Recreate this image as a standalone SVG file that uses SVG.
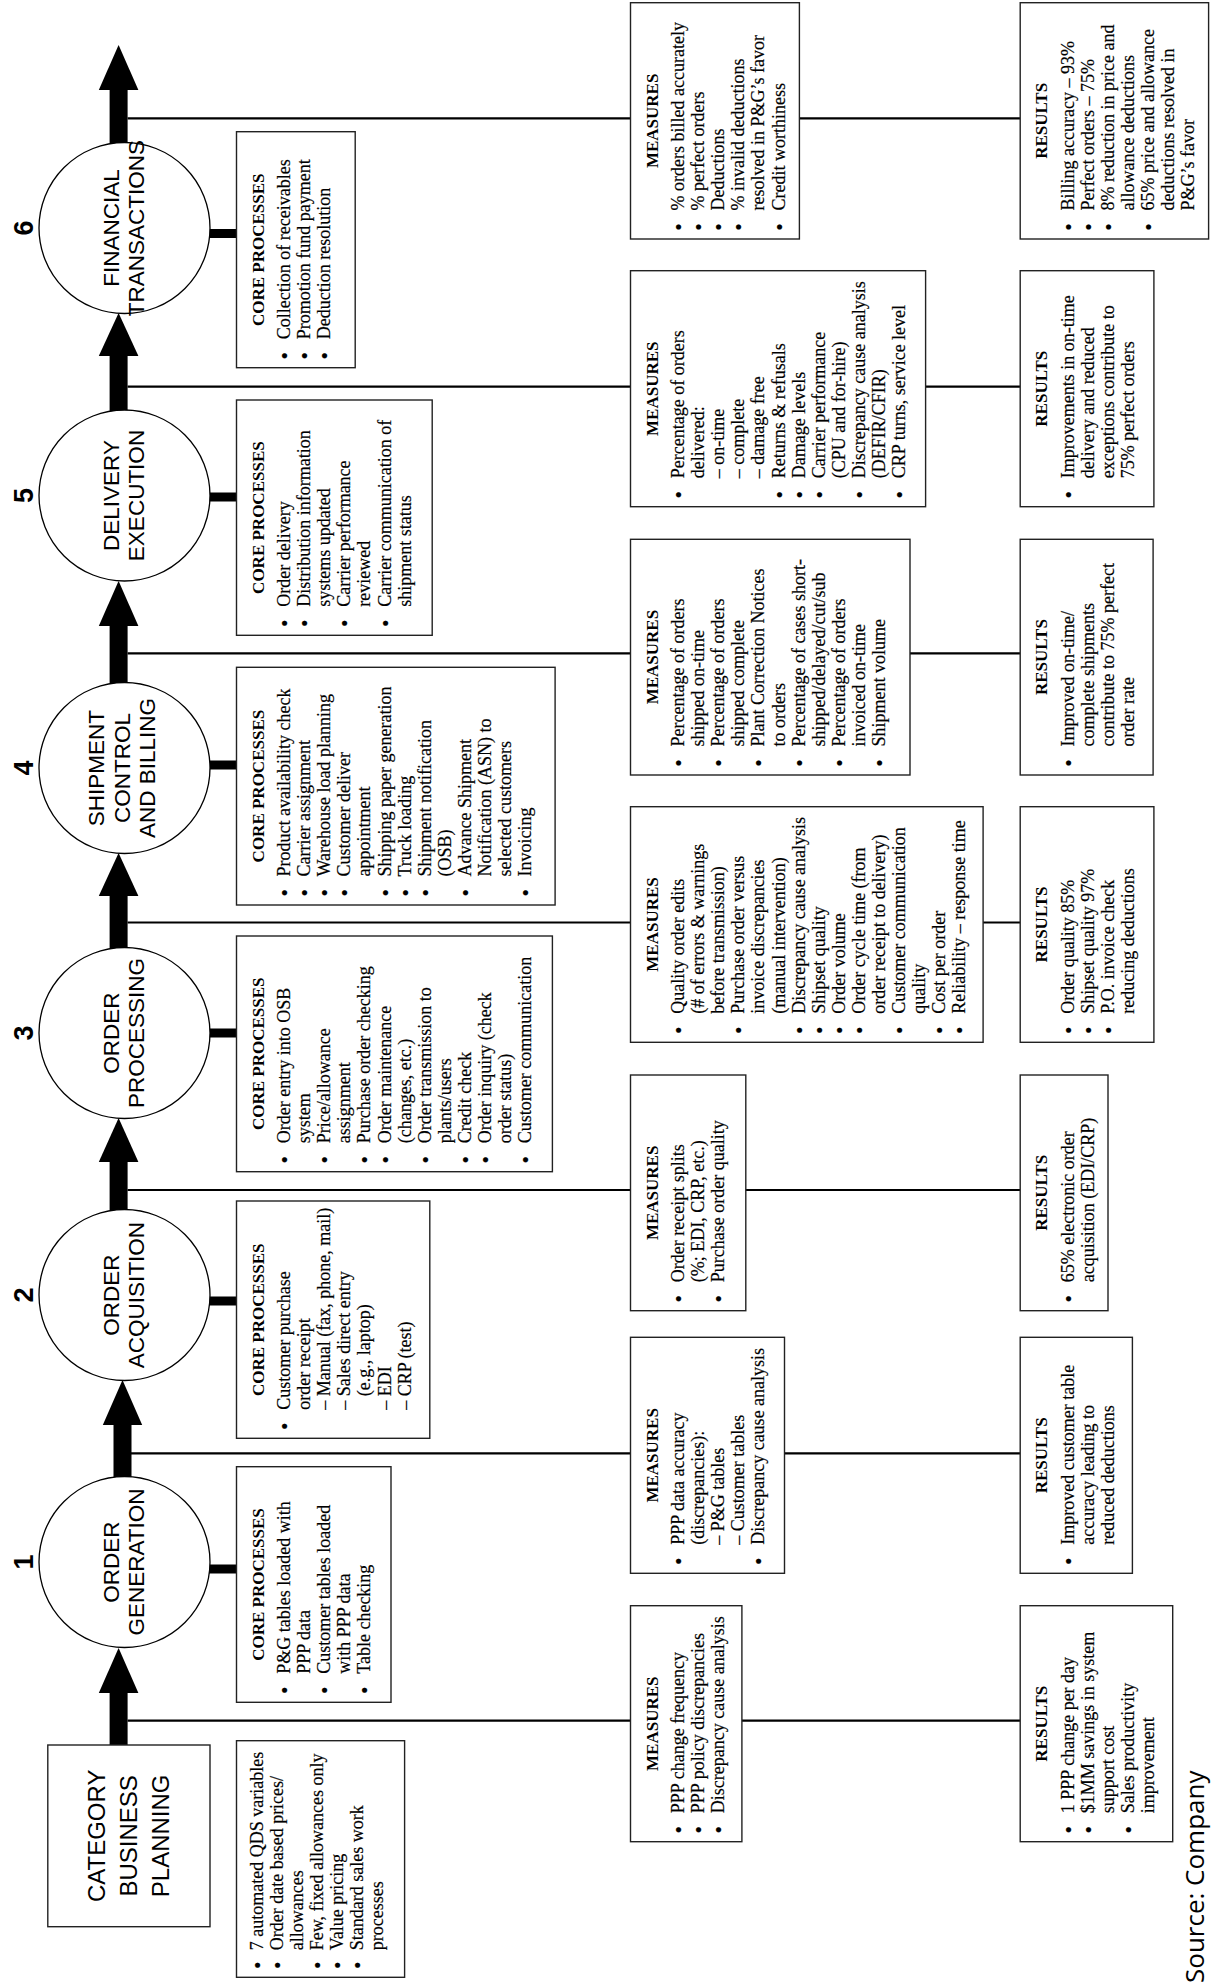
<svg xmlns="http://www.w3.org/2000/svg" width="1213" height="1982" viewBox="0 0 1213 1982">
<style>
.box{fill:#fff;stroke:#222;stroke-width:1.4}
.cir{fill:#fff;stroke:#000;stroke-width:1.3}
.t{font-family:"Liberation Serif","Times New Roman",serif;font-size:18px;fill:#000;stroke:#000;stroke-width:0.2}
.b{font-size:21px;baseline-shift:-1.5px}
.h{font-family:"Liberation Serif","Times New Roman",serif;font-size:17px;font-weight:bold;text-anchor:middle;fill:#000}
.c{font-family:"Liberation Sans",Arial,sans-serif;font-size:22.5px;text-anchor:middle;fill:#000}
.cb{font-family:"Liberation Sans",Arial,sans-serif;font-size:24px;text-anchor:middle;fill:#000}
.n{font-family:"Liberation Sans",Arial,sans-serif;font-size:27px;font-weight:bold;text-anchor:middle;fill:#000}
.src{font-family:"Open Sans","Liberation Sans",sans-serif;font-size:26px;fill:#000}
.ln{stroke:#000;stroke-width:2.2;fill:none}
.blk{fill:#000}
</style>
<g transform="translate(0,1982) rotate(-90)">
<g id="connectors">
<line class="ln" x1="261.3" y1="127.6" x2="261.3" y2="1020.2"/>
<line class="ln" x1="528.7" y1="127.6" x2="528.7" y2="1020.2"/>
<line class="ln" x1="792" y1="127.6" x2="792" y2="1020.2"/>
<line class="ln" x1="1059.5" y1="127.6" x2="1059.5" y2="1020.2"/>
<line class="ln" x1="1328.7" y1="127.6" x2="1328.7" y2="1020.2"/>
<line class="ln" x1="1595.3" y1="127.6" x2="1595.3" y2="1020.2"/>
<line class="ln" x1="1863.7" y1="127.6" x2="1863.7" y2="1020.2"/>
<rect class="blk" x="236" y="109.6" width="54" height="18"/>
<polygon class="blk" points="289,98.8 334,118.6 289,138.4"/>
<rect class="blk" x="504" y="113.5" width="54" height="18"/>
<polygon class="blk" points="557,102.8 602,122.5 557,142.2"/>
<rect class="blk" x="771" y="109.6" width="50" height="18"/>
<polygon class="blk" points="820,98.8 864,118.6 820,138.4"/>
<rect class="blk" x="1033" y="109.6" width="54" height="18"/>
<polygon class="blk" points="1086,98.8 1129,118.6 1086,138.4"/>
<rect class="blk" x="1298" y="109.6" width="59" height="18"/>
<polygon class="blk" points="1356,98.8 1401,118.6 1356,138.4"/>
<rect class="blk" x="1570" y="109.6" width="57" height="18"/>
<polygon class="blk" points="1626,98.8 1669,118.6 1626,138.4"/>
<rect class="blk" x="1838" y="109.6" width="55" height="18"/>
<polygon class="blk" points="1892,98.8 1937,118.6 1892,138.4"/>
<rect class="blk" x="1744" y="208" width="9" height="29"/>
<rect class="blk" x="1480.5" y="208" width="9" height="29"/>
<rect class="blk" x="1212.5" y="208" width="9" height="29"/>
<rect class="blk" x="944.5" y="208" width="9" height="29"/>
<rect class="blk" x="676.5" y="208" width="9" height="29"/>
<rect class="blk" x="408.5" y="208" width="9" height="29"/>
</g>

<g id="category">
<rect class="box" x="55.3" y="47.8" width="181.7" height="162.2"/>
<text class="cb"><tspan x="146.2" y="105">CATEGORY</tspan><tspan x="146.2" y="137">BUSINESS</tspan><tspan x="146.2" y="169">PLANNING</tspan></text>
</g>
<g id="category-info">
<rect class="box" x="4.7" y="236.5" width="236.6" height="168.1"/>
<text class="t"><tspan class="b" x="13" y="262.5">•</tspan><tspan x="31.7" y="262.5">7 automated QDS variables</tspan><tspan class="b" x="13" y="282.6">•</tspan><tspan x="31.7" y="282.6">Order date based prices/</tspan><tspan x="31.7" y="302.7">allowances</tspan><tspan class="b" x="13" y="322.8">•</tspan><tspan x="31.7" y="322.8">Few, fixed allowances only</tspan><tspan class="b" x="13" y="342.9">•</tspan><tspan x="31.7" y="342.9">Value pricing</tspan><tspan class="b" x="13" y="363">•</tspan><tspan x="31.7" y="363">Standard sales work</tspan><tspan x="31.7" y="383.1">processes</tspan></text>
</g>
<g id="measures-0">
<rect class="box" x="140.3" y="630.5" width="236" height="111.4"/>
<text class="h" x="258.3" y="657.5">MEASURES</text>
<text class="t"><tspan class="b" x="148.5" y="684">•</tspan><tspan x="168.8" y="684">PPP change frequency</tspan><tspan class="b" x="148.5" y="704.1">•</tspan><tspan x="168.8" y="704.1">PPP policy discrepancies</tspan><tspan class="b" x="148.5" y="724.2">•</tspan><tspan x="168.8" y="724.2">Discrepancy cause analysis</tspan></text>
</g>
<g id="results-0">
<rect class="box" x="140.3" y="1020.2" width="236" height="152.5"/>
<text class="h" x="258.3" y="1047.2">RESULTS</text>
<text class="t"><tspan class="b" x="148.5" y="1073.7">•</tspan><tspan x="168.8" y="1073.7">1 PPP change per day</tspan><tspan class="b" x="148.5" y="1093.8">•</tspan><tspan x="168.8" y="1093.8">$1MM savings in system</tspan><tspan x="168.8" y="1113.9">support cost</tspan><tspan class="b" x="148.5" y="1134">•</tspan><tspan x="168.8" y="1134">Sales productivity</tspan><tspan x="168.8" y="1154.1">improvement</tspan></text>
</g>

<g id="stage-1">
<circle class="cir" cx="420" cy="124.5" r="85.5"/>
<text class="n" x="420" y="33">1</text>
<text class="c"><tspan x="420" y="118.5">ORDER</tspan><tspan x="420" y="144">GENERATION</tspan></text>
</g>
<g id="core-1">
<rect class="box" x="279.7" y="236.5" width="235.6" height="154.5"/>
<text class="h" x="397.5" y="263.5">CORE PROCESSES</text>
<text class="t"><tspan class="b" x="288" y="290">•</tspan><tspan x="308.2" y="290">P&amp;G tables loaded with</tspan><tspan x="308.2" y="310.1">PPP data</tspan><tspan class="b" x="288" y="330.2">•</tspan><tspan x="308.2" y="330.2">Customer tables loaded</tspan><tspan x="308.2" y="350.3">with PPP data</tspan><tspan class="b" x="288" y="370.4">•</tspan><tspan x="308.2" y="370.4">Table checking</tspan></text>
</g>
<g id="measures-1">
<rect class="box" x="408.7" y="630.5" width="236" height="154"/>
<text class="h" x="526.7" y="657.5">MEASURES</text>
<text class="t"><tspan class="b" x="417" y="684">•</tspan><tspan x="437.2" y="684">PPP data accuracy</tspan><tspan x="437.2" y="704.1">(discrepancies):</tspan><tspan x="437.2" y="724.2">–  P&amp;G tables</tspan><tspan x="437.2" y="744.3">–  Customer tables</tspan><tspan class="b" x="417" y="764.4">•</tspan><tspan x="437.2" y="764.4">Discrepancy cause analysis</tspan></text>
</g>
<g id="results-1">
<rect class="box" x="408.7" y="1020.2" width="236" height="112.2"/>
<text class="h" x="526.7" y="1047.2">RESULTS</text>
<text class="t"><tspan class="b" x="417" y="1073.7">•</tspan><tspan x="437.2" y="1073.7">Improved customer table</tspan><tspan x="437.2" y="1093.8">accuracy leading to</tspan><tspan x="437.2" y="1113.9">reduced deductions</tspan></text>
</g>

<g id="stage-2">
<circle class="cir" cx="687" cy="124.5" r="85.5"/>
<text class="n" x="687" y="33">2</text>
<text class="c"><tspan x="687" y="118.5">ORDER</tspan><tspan x="687" y="144">ACQUISITION</tspan></text>
</g>
<g id="core-2">
<rect class="box" x="543.7" y="236.5" width="237.3" height="193.3"/>
<text class="h" x="662.3" y="263.5">CORE PROCESSES</text>
<text class="t"><tspan class="b" x="552" y="290">•</tspan><tspan x="572.2" y="290">Customer purchase</tspan><tspan x="572.2" y="310.1">order receipt</tspan><tspan x="572.2" y="330.2">– Manual (fax, phone, mail)</tspan><tspan x="572.2" y="350.3">– Sales direct entry</tspan><tspan x="585.7" y="370.4">(e.g., laptop)</tspan><tspan x="572.2" y="390.5">– EDI</tspan><tspan x="572.2" y="410.6">– CRP (test)</tspan></text>
</g>
<g id="measures-2">
<rect class="box" x="671.3" y="630.5" width="235.7" height="115.3"/>
<text class="h" x="789.2" y="657.5">MEASURES</text>
<text class="t"><tspan class="b" x="679.5" y="684">•</tspan><tspan x="699.8" y="684">Order receipt splits</tspan><tspan x="699.8" y="704.1">(%; EDI, CRP, etc.)</tspan><tspan class="b" x="679.5" y="724.2">•</tspan><tspan x="699.8" y="724.2">Purchase order quality</tspan></text>
</g>
<g id="results-2">
<rect class="box" x="671.3" y="1020.2" width="235.7" height="87.8"/>
<text class="h" x="789.2" y="1047.2">RESULTS</text>
<text class="t"><tspan class="b" x="679.5" y="1073.7">•</tspan><tspan x="699.8" y="1073.7">65% electronic order</tspan><tspan x="699.8" y="1093.8">acquisition (EDI/CRP)</tspan></text>
</g>

<g id="stage-3">
<circle class="cir" cx="949" cy="124.5" r="85.5"/>
<text class="n" x="949" y="33">3</text>
<text class="c"><tspan x="949" y="118.5">ORDER</tspan><tspan x="949" y="144">PROCESSING</tspan></text>
</g>
<g id="core-3">
<rect class="box" x="810.3" y="236.5" width="235.7" height="315.9"/>
<text class="h" x="928.2" y="263.5">CORE PROCESSES</text>
<text class="t"><tspan class="b" x="818.5" y="290">•</tspan><tspan x="838.8" y="290">Order entry into OSB</tspan><tspan x="838.8" y="310.1">system</tspan><tspan class="b" x="818.5" y="330.2">•</tspan><tspan x="838.8" y="330.2">Price/allowance</tspan><tspan x="838.8" y="350.3">assignment</tspan><tspan class="b" x="818.5" y="370.4">•</tspan><tspan x="838.8" y="370.4">Purchase order checking</tspan><tspan class="b" x="818.5" y="390.5">•</tspan><tspan x="838.8" y="390.5">Order maintenance</tspan><tspan x="838.8" y="410.6">(changes, etc.)</tspan><tspan class="b" x="818.5" y="430.7">•</tspan><tspan x="838.8" y="430.7">Order transmission to</tspan><tspan x="838.8" y="450.8">plants/users</tspan><tspan class="b" x="818.5" y="470.9">•</tspan><tspan x="838.8" y="470.9">Credit check</tspan><tspan class="b" x="818.5" y="491">•</tspan><tspan x="838.8" y="491">Order inquiry (check</tspan><tspan x="838.8" y="511.1">order status)</tspan><tspan class="b" x="818.5" y="531.2">•</tspan><tspan x="838.8" y="531.2">Customer communication</tspan></text>
</g>
<g id="measures-3">
<rect class="box" x="939.7" y="630.5" width="235.6" height="352.6"/>
<text class="h" x="1057.5" y="657.5">MEASURES</text>
<text class="t"><tspan class="b" x="948" y="684">•</tspan><tspan x="968.2" y="684">Quality order edits</tspan><tspan x="968.2" y="704.1">(# of errors &amp; warnings</tspan><tspan x="968.2" y="724.2">before transmission)</tspan><tspan class="b" x="948" y="744.3">•</tspan><tspan x="968.2" y="744.3">Purchase order versus</tspan><tspan x="968.2" y="764.4">invoice discrepancies</tspan><tspan x="968.2" y="784.5">(manual intervention)</tspan><tspan class="b" x="948" y="804.6">•</tspan><tspan x="968.2" y="804.6">Discrepancy cause analysis</tspan><tspan class="b" x="948" y="824.7">•</tspan><tspan x="968.2" y="824.7">Shipset quality</tspan><tspan class="b" x="948" y="844.8">•</tspan><tspan x="968.2" y="844.8">Order volume</tspan><tspan class="b" x="948" y="864.9">•</tspan><tspan x="968.2" y="864.9">Order cycle time (from</tspan><tspan x="968.2" y="885">order receipt to delivery)</tspan><tspan class="b" x="948" y="905.1">•</tspan><tspan x="968.2" y="905.1">Customer communication</tspan><tspan x="968.2" y="925.2">quality</tspan><tspan class="b" x="948" y="945.3">•</tspan><tspan x="968.2" y="945.3">Cost per order</tspan><tspan class="b" x="948" y="965.4">•</tspan><tspan x="968.2" y="965.4">Reliability – response time</tspan></text>
</g>
<g id="results-3">
<rect class="box" x="939.7" y="1020.2" width="235.6" height="133.7"/>
<text class="h" x="1057.5" y="1047.2">RESULTS</text>
<text class="t"><tspan class="b" x="948" y="1073.7">•</tspan><tspan x="968.2" y="1073.7">Order quality 85%</tspan><tspan class="b" x="948" y="1093.8">•</tspan><tspan x="968.2" y="1093.8">Shipset quality 97%</tspan><tspan class="b" x="948" y="1113.9">•</tspan><tspan x="968.2" y="1113.9">P.O. invoice check</tspan><tspan x="968.2" y="1134">reducing deductions</tspan></text>
</g>

<g id="stage-4">
<circle class="cir" cx="1214" cy="124.5" r="85.5"/>
<text class="n" x="1214" y="33">4</text>
<text class="c"><tspan x="1214" y="104">SHIPMENT</tspan><tspan x="1214" y="129.5">CONTROL</tspan><tspan x="1214" y="155">AND BILLING</tspan></text>
</g>
<g id="core-4">
<rect class="box" x="1077" y="236.5" width="237.7" height="318.6"/>
<text class="h" x="1195.9" y="263.5">CORE PROCESSES</text>
<text class="t"><tspan class="b" x="1085.5" y="290">•</tspan><tspan x="1105.5" y="290">Product availability check</tspan><tspan class="b" x="1085.5" y="310.1">•</tspan><tspan x="1105.5" y="310.1">Carrier assignment</tspan><tspan class="b" x="1085.5" y="330.2">•</tspan><tspan x="1105.5" y="330.2">Warehouse load planning</tspan><tspan class="b" x="1085.5" y="350.3">•</tspan><tspan x="1105.5" y="350.3">Customer deliver</tspan><tspan x="1105.5" y="370.4">appointment</tspan><tspan class="b" x="1085.5" y="390.5">•</tspan><tspan x="1105.5" y="390.5">Shipping paper generation</tspan><tspan class="b" x="1085.5" y="410.6">•</tspan><tspan x="1105.5" y="410.6">Truck loading</tspan><tspan class="b" x="1085.5" y="430.7">•</tspan><tspan x="1105.5" y="430.7">Shipment notification</tspan><tspan x="1105.5" y="450.8">(OSB)</tspan><tspan class="b" x="1085.5" y="470.9">•</tspan><tspan x="1105.5" y="470.9">Advance Shipment</tspan><tspan x="1105.5" y="491">Notification (ASN) to</tspan><tspan x="1105.5" y="511.1">selected customers</tspan><tspan class="b" x="1085.5" y="531.2">•</tspan><tspan x="1105.5" y="531.2">Invoicing</tspan></text>
</g>
<g id="measures-4">
<rect class="box" x="1207" y="630.5" width="235.7" height="279.5"/>
<text class="h" x="1324.9" y="657.5">MEASURES</text>
<text class="t"><tspan class="b" x="1215.3" y="684">•</tspan><tspan x="1235.5" y="684">Percentage of orders</tspan><tspan x="1235.5" y="704.1">shipped on-time</tspan><tspan class="b" x="1215.3" y="724.2">•</tspan><tspan x="1235.5" y="724.2">Percentage of orders</tspan><tspan x="1235.5" y="744.3">shipped complete</tspan><tspan class="b" x="1215.3" y="764.4">•</tspan><tspan x="1235.5" y="764.4">Plant Correction Notices</tspan><tspan x="1235.5" y="784.5">to orders</tspan><tspan class="b" x="1215.3" y="804.6">•</tspan><tspan x="1235.5" y="804.6">Percentage of cases short-</tspan><tspan x="1235.5" y="824.7">shipped/delayed/cut/sub</tspan><tspan class="b" x="1215.3" y="844.8">•</tspan><tspan x="1235.5" y="844.8">Percentage of orders</tspan><tspan x="1235.5" y="864.9">invoiced on-time</tspan><tspan class="b" x="1215.3" y="885">•</tspan><tspan x="1235.5" y="885">Shipment volume</tspan></text>
</g>
<g id="results-4">
<rect class="box" x="1207" y="1020.2" width="235.7" height="132.9"/>
<text class="h" x="1324.9" y="1047.2">RESULTS</text>
<text class="t"><tspan class="b" x="1215.3" y="1073.7">•</tspan><tspan x="1235.5" y="1073.7">Improved on-time/</tspan><tspan x="1235.5" y="1093.8">complete shipments</tspan><tspan x="1235.5" y="1113.9">contribute to 75% perfect</tspan><tspan x="1235.5" y="1134">order rate</tspan></text>
</g>

<g id="stage-5">
<circle class="cir" cx="1486.5" cy="124.5" r="85.5"/>
<text class="n" x="1486.5" y="33">5</text>
<text class="c"><tspan x="1486.5" y="118.5">DELIVERY</tspan><tspan x="1486.5" y="144">EXECUTION</tspan></text>
</g>
<g id="core-5">
<rect class="box" x="1346.7" y="236.5" width="235.3" height="195.7"/>
<text class="h" x="1464.4" y="263.5">CORE PROCESSES</text>
<text class="t"><tspan class="b" x="1355" y="290">•</tspan><tspan x="1375.2" y="290">Order delivery</tspan><tspan class="b" x="1355" y="310.1">•</tspan><tspan x="1375.2" y="310.1">Distribution information</tspan><tspan x="1375.2" y="330.2">systems updated</tspan><tspan class="b" x="1355" y="350.3">•</tspan><tspan x="1375.2" y="350.3">Carrier performance</tspan><tspan x="1375.2" y="370.4">reviewed</tspan><tspan class="b" x="1355" y="390.5">•</tspan><tspan x="1375.2" y="390.5">Carrier communication of</tspan><tspan x="1375.2" y="410.6">shipment status</tspan></text>
</g>
<g id="measures-5">
<rect class="box" x="1475.3" y="630.5" width="236" height="295.1"/>
<text class="h" x="1593.3" y="657.5">MEASURES</text>
<text class="t"><tspan class="b" x="1483.6" y="684">•</tspan><tspan x="1503.8" y="684">Percentage of orders</tspan><tspan x="1503.8" y="704.1">delivered:</tspan><tspan x="1503.8" y="724.2">–  on-time</tspan><tspan x="1503.8" y="744.3">–  complete</tspan><tspan x="1503.8" y="764.4">–  damage free</tspan><tspan class="b" x="1483.6" y="784.5">•</tspan><tspan x="1503.8" y="784.5">Returns &amp; refusals</tspan><tspan class="b" x="1483.6" y="804.6">•</tspan><tspan x="1503.8" y="804.6">Damage levels</tspan><tspan class="b" x="1483.6" y="824.7">•</tspan><tspan x="1503.8" y="824.7">Carrier performance</tspan><tspan x="1503.8" y="844.8">(CPU and for-hire)</tspan><tspan class="b" x="1483.6" y="864.9">•</tspan><tspan x="1503.8" y="864.9">Discrepancy cause analysis</tspan><tspan x="1503.8" y="885">(DEFIR/CFIR)</tspan><tspan class="b" x="1483.6" y="905.1">•</tspan><tspan x="1503.8" y="905.1">CRP turns, service level</tspan></text>
</g>
<g id="results-5">
<rect class="box" x="1475.3" y="1020.2" width="236" height="133.7"/>
<text class="h" x="1593.3" y="1047.2">RESULTS</text>
<text class="t"><tspan class="b" x="1483.6" y="1073.7">•</tspan><tspan x="1503.8" y="1073.7">Improvements in on-time</tspan><tspan x="1503.8" y="1093.8">delivery and reduced</tspan><tspan x="1503.8" y="1113.9">exceptions contribute to</tspan><tspan x="1503.8" y="1134">75% perfect orders</tspan></text>
</g>

<g id="stage-6">
<circle class="cir" cx="1754" cy="124.5" r="85.5"/>
<text class="n" x="1754" y="33">6</text>
<text class="c"><tspan x="1754" y="118.5">FINANCIAL</tspan><tspan x="1754" y="144">TRANSACTIONS</tspan></text>
</g>
<g id="core-6">
<rect class="box" x="1614.3" y="236.5" width="236" height="118.7"/>
<text class="h" x="1732.3" y="263.5">CORE PROCESSES</text>
<text class="t"><tspan class="b" x="1622.6" y="290">•</tspan><tspan x="1642.8" y="290">Collection of receivables</tspan><tspan class="b" x="1622.6" y="310.1">•</tspan><tspan x="1642.8" y="310.1">Promotion fund payment</tspan><tspan class="b" x="1622.6" y="330.2">•</tspan><tspan x="1642.8" y="330.2">Deduction resolution</tspan></text>
</g>
<g id="measures-6">
<rect class="box" x="1743" y="630.5" width="236.3" height="168.9"/>
<text class="h" x="1861.2" y="657.5">MEASURES</text>
<text class="t"><tspan class="b" x="1751.3" y="684">•</tspan><tspan x="1771.5" y="684">% orders billed accurately</tspan><tspan class="b" x="1751.3" y="704.1">•</tspan><tspan x="1771.5" y="704.1">% perfect orders</tspan><tspan class="b" x="1751.3" y="724.2">•</tspan><tspan x="1771.5" y="724.2">Deductions</tspan><tspan class="b" x="1751.3" y="744.3">•</tspan><tspan x="1771.5" y="744.3">% invalid deductions</tspan><tspan x="1771.5" y="764.4">resolved in P&amp;G’s favor</tspan><tspan class="b" x="1751.3" y="784.5">•</tspan><tspan x="1771.5" y="784.5">Credit worthiness</tspan></text>
</g>
<g id="results-6">
<rect class="box" x="1743" y="1020.2" width="236.3" height="188.4"/>
<text class="h" x="1861.2" y="1047.2">RESULTS</text>
<text class="t"><tspan class="b" x="1751.3" y="1073.7">•</tspan><tspan x="1771.5" y="1073.7">Billing accuracy – 93%</tspan><tspan class="b" x="1751.3" y="1093.8">•</tspan><tspan x="1771.5" y="1093.8">Perfect orders – 75%</tspan><tspan class="b" x="1751.3" y="1113.9">•</tspan><tspan x="1771.5" y="1113.9">8% reduction in price and</tspan><tspan x="1771.5" y="1134">allowance deductions</tspan><tspan class="b" x="1751.3" y="1154.1">•</tspan><tspan x="1771.5" y="1154.1">65% price and allowance</tspan><tspan x="1771.5" y="1174.2">deductions resolved in</tspan><tspan x="1771.5" y="1194.3">P&amp;G’s favor</tspan></text>
</g>

<text class="src" x="-1" y="1204">Source: Company</text>
</g>
</svg>
